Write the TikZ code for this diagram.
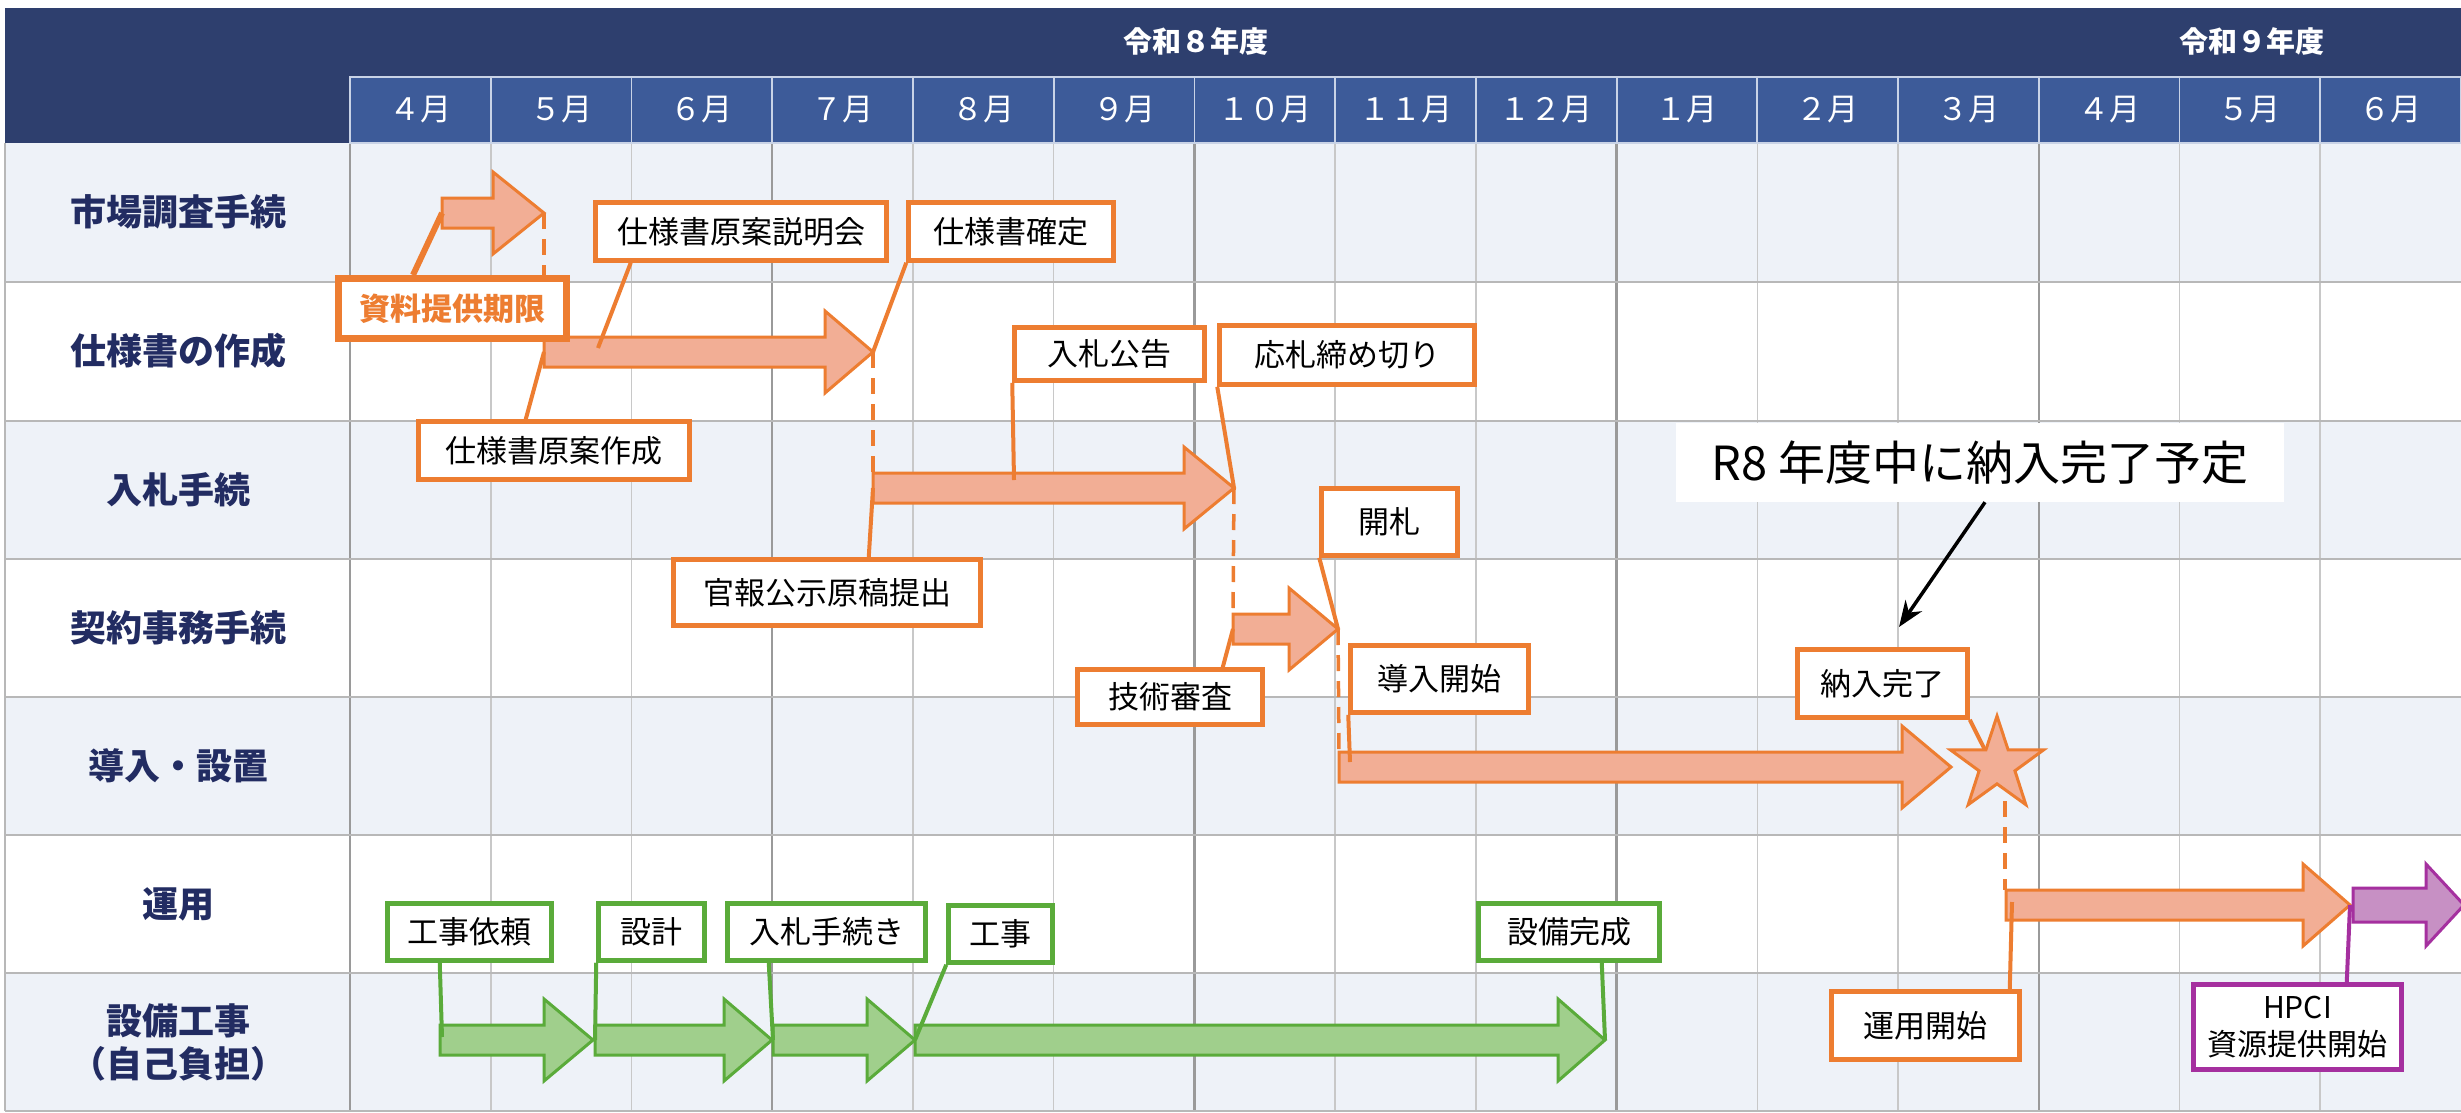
\documentclass[tikz,border=0pt]{standalone}
\usepackage{fontspec}
\setmainfont{Noto Sans CJK JP}
\usetikzlibrary{shapes.geometric,arrows.meta}
\definecolor{navyband}{HTML}{2E3F6E}
\definecolor{monthcell}{HTML}{3D5B99}
\definecolor{monthline}{HTML}{C9D3E6}
\definecolor{rowlight}{HTML}{EEF2F8}
\definecolor{textnavy}{HTML}{222C62}
\definecolor{gridlight}{HTML}{C8C8C8}
\definecolor{griddark}{HTML}{9A9A9A}
\definecolor{gridrow}{HTML}{B8B8B8}
\definecolor{orangeb}{HTML}{ED7D31}
\definecolor{salmon}{HTML}{F2AE95}
\definecolor{greenb}{HTML}{5AAB3A}
\definecolor{greenf}{HTML}{A0CF8C}
\definecolor{purpleb}{HTML}{A5309F}
\definecolor{purplef}{HTML}{C790C4}
\newcommand{\blockarr}[6]{%
  \draw[#1] (#2,#5-15) -- (#3,#5-15) -- (#3,#5-41) -- (#4,#5) -- (#3,#5+41) -- (#3,#5+15) -- (#2,#5+15) -- cycle;
  \coordinate (#6t) at (#2,#5);
  \coordinate (#6h) at (#4,#5);}
\begin{document}
\begin{tikzpicture}[x=1pt,y=-1pt,
 obox/.style={draw=orangeb, line width=4.5pt, fill=white, inner sep=0pt, font=\fontsize{31}{36}\selectfont, text=black},
 gbox/.style={obox, draw=greenb},
 pbox/.style={obox, draw=purpleb, align=center, font=\fontsize{30}{37}\selectfont},
 oarr/.style={draw=orangeb, fill=salmon, line width=3pt},
 garr/.style={draw=greenb, fill=greenf, line width=3pt},
 parr/.style={draw=purpleb, fill=purplef, line width=3pt},
 optr/.style={draw=orangeb, line width=4pt},
 gptr/.style={draw=greenb, line width=4pt},
 pptr/.style={draw=purpleb, line width=4pt},
 dashline/.style={draw=orangeb, line width=3.5pt, dash pattern=on 16pt off 10pt},
 rowlabel/.style={font=\fontsize{36}{43}\selectfont\bfseries, text=textnavy, align=center},
 monthlabel/.style={font=\fontsize{31}{36}\selectfont, text=white},
 yearlabel/.style={font=\fontsize{29}{34}\selectfont\bfseries, text=white},
]
\useasboundingbox (0,0) rectangle (2461,1112);
\fill[white] (0,0) rectangle (2461,1112);
% rows
\fill[rowlight] (5,143) rectangle (2461,282);
\fill[rowlight] (5,421) rectangle (2461,559);
\fill[rowlight] (5,697) rectangle (2461,835);
\fill[rowlight] (5,973) rectangle (2461,1111);
% vertical grid
\foreach \k in {1,...,14} {\draw[gridlight, line width=1.6pt] (350+140.733*\k,143) -- (350+140.733*\k,1111);}
\foreach \k in {3,6,9,12} {\draw[griddark, line width=2.4pt] (350+140.733*\k,143) -- (350+140.733*\k,1111);}
\draw[griddark, line width=2.4pt] (350,143) -- (350,1111);
\draw[gridrow, line width=2pt] (5,143) -- (5,1111);
\foreach \yy in {282,421,559,697,835,973,1111} {\draw[gridrow, line width=2.6pt] (5,\yy) -- (2461,\yy);}
% header
\fill[navyband] (5,8) rectangle (2461,143);
\foreach \m [count=\k from 0] in {４月,５月,６月,７月,８月,９月,１０月,１１月,１２月,１月,２月,３月,４月,５月,６月} {
  \draw[fill=monthcell, draw=monthline, line width=1.8pt] (350+140.733*\k,77) rectangle (350+140.733*\k+140.733,143);
  \node[monthlabel] (m\k) at (350+140.733*\k+70.37,110) {\m};
}
\node[yearlabel] (y8) at (1196,41) {令和８年度};
\node[yearlabel] (y9) at (2252,41) {令和９年度};
% row labels
\node[rowlabel] (r1) at (178,212) {市場調査手続};
\node[rowlabel] (r2) at (178,351) {仕様書の作成};
\node[rowlabel] (r3) at (178,490) {入札手続};
\node[rowlabel] (r4) at (178,628) {契約事務手続};
\node[rowlabel] (r5) at (178,766) {導入・設置};
\node[rowlabel] (r6) at (178,904) {運用};
\node[rowlabel] (r7) at (178,1042) {設備工事\\（自己負担）};
% arrows
\blockarr{oarr}{442}{493}{544}{213}{a1}
\blockarr{oarr}{544}{825}{873}{352}{a2}
\blockarr{oarr}{873}{1184}{1234}{488}{a3}
\blockarr{oarr}{1233}{1289}{1338}{629}{a4}
\blockarr{oarr}{1339}{1902}{1951}{767}{a5}
\blockarr{oarr}{2006}{2303}{2350}{905}{a6}
\draw[parr] (2353,888) -- (2426,888) -- (2426,864) -- (2464,905) -- (2426,946) -- (2426,922) -- (2353,922) -- cycle;
\coordinate (a7t) at (2353,905);
\blockarr{garr}{440}{544}{593}{1040}{g1}
\blockarr{garr}{595}{724}{772}{1040}{g2}
\blockarr{garr}{773}{867}{915}{1040}{g3}
\blockarr{garr}{915}{1558}{1605}{1040}{g4}
\node[star, star points=5, star point ratio=2.6, minimum size=98pt, inner sep=0pt, draw=orangeb, fill=salmon, line width=3pt] (star) at (1997,765) {};
% dashed links
\coordinate (d5s) at (2005,801);
\draw[dashline] (a1h) -- ([yshift=15pt]a2t);
\draw[dashline] (a2h) -- ([yshift=15pt]a3t);
\draw[dashline] (a3h) -- (1233,614);
\draw[dashline] (a4h) -- ([yshift=15pt]a5t);
\draw[dashline] (d5s) -- (2005,890);
% callout boxes
\node[obox, line width=7pt, minimum width=228pt, minimum height=60pt, text=orangeb, font=\fontsize{31}{36}\selectfont\bfseries] (shiryo) at (452.5,308.5) {資料提供期限};
\node[obox, minimum width=291pt, minimum height=58pt] (setsumei) at (741,231.5) {仕様書原案説明会};
\node[obox, minimum width=205pt, minimum height=58pt] (kakutei) at (1011,231.5) {仕様書確定};
\node[obox, minimum width=271pt, minimum height=58pt] (genan) at (554,450.5) {仕様書原案作成};
\node[obox, minimum width=190pt, minimum height=53pt] (koukoku) at (1109.5,354) {入札公告};
\node[obox, minimum width=255pt, minimum height=59pt] (oosatsu) at (1347,355) {応札締め切り};
\node[obox, minimum width=307pt, minimum height=66pt] (kanpo) at (827,592.5) {官報公示原稿提出};
\node[obox, minimum width=136pt, minimum height=67pt] (kaisatsu) at (1389.5,522) {開札};
\node[obox, minimum width=185pt, minimum height=55pt] (gijutsu) at (1170,697) {技術審査};
\node[obox, minimum width=178pt, minimum height=67pt] (dounyu) at (1439.5,679) {導入開始};
\node[obox, minimum width=170pt, minimum height=68pt] (nounyu) at (1882.5,683.5) {納入完了};
\node[obox, minimum width=188pt, minimum height=68pt] (unyou) at (1925.5,1025.5) {運用開始};
\node[pbox, minimum width=208pt, minimum height=85pt] (hpci) at (2297.5,1027) {HPCI\\資源提供開始};
\node[gbox, minimum width=164pt, minimum height=57pt] (irai) at (469.5,932) {工事依頼};
\node[gbox, minimum width=106pt, minimum height=57pt] (sekkei) at (651.5,932) {設計};
\node[gbox, minimum width=198pt, minimum height=57pt] (tetsuzuki) at (826.5,932) {入札手続き};
\node[gbox, minimum width=104pt, minimum height=57pt] (kouji) at (1000.5,934) {工事};
\node[gbox, minimum width=181pt, minimum height=57pt] (kansei) at (1569,932) {設備完成};
\node[fill=white, inner sep=0pt, minimum width=608pt, minimum height=79pt, font=\fontsize{47}{53}\selectfont, text=black] (note) at (1980,462.5) {R8 年度中に納入完了予定};
% pointer targets
\coordinate (setsumeipt) at (598,348);
\coordinate (koukokupt) at (1014,480);
\coordinate (dounyupt) at (1350,762);
\coordinate (starpt) at (1985,750);
\coordinate (unyoupt) at (2012,902);
\coordinate (iraipt) at (442,1037);
\coordinate (notept) at (1899,627);
% pointers
\draw[optr, line width=6pt] ([xshift=78pt]shiryo.north west) -- (a1t);
\draw[optr] ([xshift=37.5pt]setsumei.south west) -- (setsumeipt);
\draw[optr] (kakutei.south west) -- (a2h);
\draw[optr] ([xshift=109.5pt]genan.north west) -- (a2t);
\draw[optr] ([xshift=197.5pt]kanpo.north west) -- (a3t);
\draw[optr] (koukoku.south west) -- (koukokupt);
\draw[optr] (oosatsu.south west) -- (a3h);
\draw[optr] ([xshift=147.5pt]gijutsu.north west) -- (a4t);
\draw[optr] (kaisatsu.south west) -- (a4h);
\draw[optr] (dounyu.south west) -- (dounyupt);
\draw[optr] (nounyu.south east) -- (starpt);
\draw[optr] ([xshift=180.5pt]unyou.north west) -- (unyoupt);
\draw[pptr] ([xshift=155.5pt]hpci.north west) -- (a6h);
\draw[gptr] ([xshift=54.5pt]irai.south west) -- (iraipt);
\draw[gptr] (sekkei.south west) -- (g2t);
\draw[gptr] ([xshift=43.5pt]tetsuzuki.south west) -- (g3t);
\draw[gptr] (kouji.south west) -- (g4t);
\draw[gptr] ([xshift=125.5pt]kansei.south west) -- (g4h);
\draw[black, line width=3.5pt, -{Stealth[length=26pt, width=20pt]}] ([xshift=5pt]note.south) -- (notept);
% redraw boxes on top of pointers
\node[obox, line width=7pt, minimum width=228pt, minimum height=60pt, text=orangeb, font=\fontsize{31}{36}\selectfont\bfseries] at (shiryo) {資料提供期限};
\node[obox, minimum width=291pt, minimum height=58pt] at (setsumei) {仕様書原案説明会};
\node[obox, minimum width=205pt, minimum height=58pt] at (kakutei) {仕様書確定};
\node[obox, minimum width=271pt, minimum height=58pt] at (genan) {仕様書原案作成};
\node[obox, minimum width=190pt, minimum height=53pt] at (koukoku) {入札公告};
\node[obox, minimum width=255pt, minimum height=59pt] at (oosatsu) {応札締め切り};
\node[obox, minimum width=307pt, minimum height=66pt] at (kanpo) {官報公示原稿提出};
\node[obox, minimum width=136pt, minimum height=67pt] at (kaisatsu) {開札};
\node[obox, minimum width=185pt, minimum height=55pt] at (gijutsu) {技術審査};
\node[obox, minimum width=178pt, minimum height=67pt] at (dounyu) {導入開始};
\node[obox, minimum width=170pt, minimum height=68pt] at (nounyu) {納入完了};
\node[obox, minimum width=188pt, minimum height=68pt] at (unyou) {運用開始};
\node[pbox, minimum width=208pt, minimum height=85pt] at (hpci) {HPCI\\資源提供開始};
\node[gbox, minimum width=164pt, minimum height=57pt] at (irai) {工事依頼};
\node[gbox, minimum width=106pt, minimum height=57pt] at (sekkei) {設計};
\node[gbox, minimum width=198pt, minimum height=57pt] at (tetsuzuki) {入札手続き};
\node[gbox, minimum width=104pt, minimum height=57pt] at (kouji) {工事};
\node[gbox, minimum width=181pt, minimum height=57pt] at (kansei) {設備完成};
\end{tikzpicture}
\end{document}
